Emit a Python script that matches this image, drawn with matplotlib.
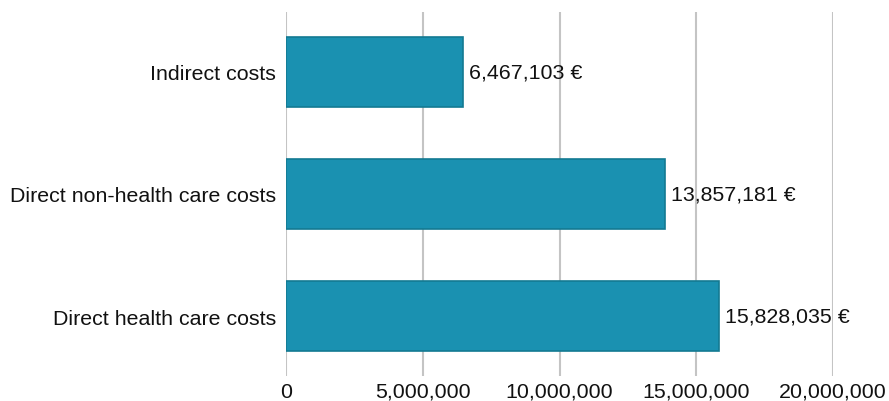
import matplotlib
matplotlib.use("Agg")
import matplotlib.pyplot as plt
from matplotlib.ticker import FuncFormatter

# Cost categories (bottom to top) and values in euro
categories = ["Direct health care costs", "Direct non-health care costs", "Indirect costs"]
costs = [15828035, 13857181, 6467103]
x_ticks = [0, 5000000, 10000000, 15000000, 20000000]

plt.rcParams["font.family"] = ["Liberation Sans", "DejaVu Sans"]

fig = plt.figure(figsize=(8.89, 4.02), dpi=100)
ax = fig.add_axes([286 / 889, 25 / 402, 547 / 889, 364 / 402])

ypos = range(len(categories))
ax.barh(ypos, costs, height=0.575, color="#1a91b1", edgecolor="#137a92", linewidth=1.2, zorder=3)

for y, v in zip(ypos, costs):
    ax.text(v + 220000, y, f"{v:,} €", va="center", ha="left", fontsize=15.4, color="#111111")

ax.set_xlim(0, 20000000)
ax.set_ylim(-0.49, len(categories) - 0.51)
ax.set_xticks(x_ticks)
ax.xaxis.set_major_formatter(FuncFormatter(lambda v, p: f"{int(v):,}"))
ax.set_yticks(list(ypos))
ax.set_yticklabels(categories)
ax.grid(axis="x", color="#c4c4c4", linewidth=1.5, zorder=0)
for s in ax.spines.values():
    s.set_visible(False)
ax.tick_params(axis="both", length=0, labelsize=15.4, colors="#111111")
ax.tick_params(axis="y", pad=7)
ax.tick_params(axis="x", pad=4)

fig.savefig("out.png", dpi=100)
